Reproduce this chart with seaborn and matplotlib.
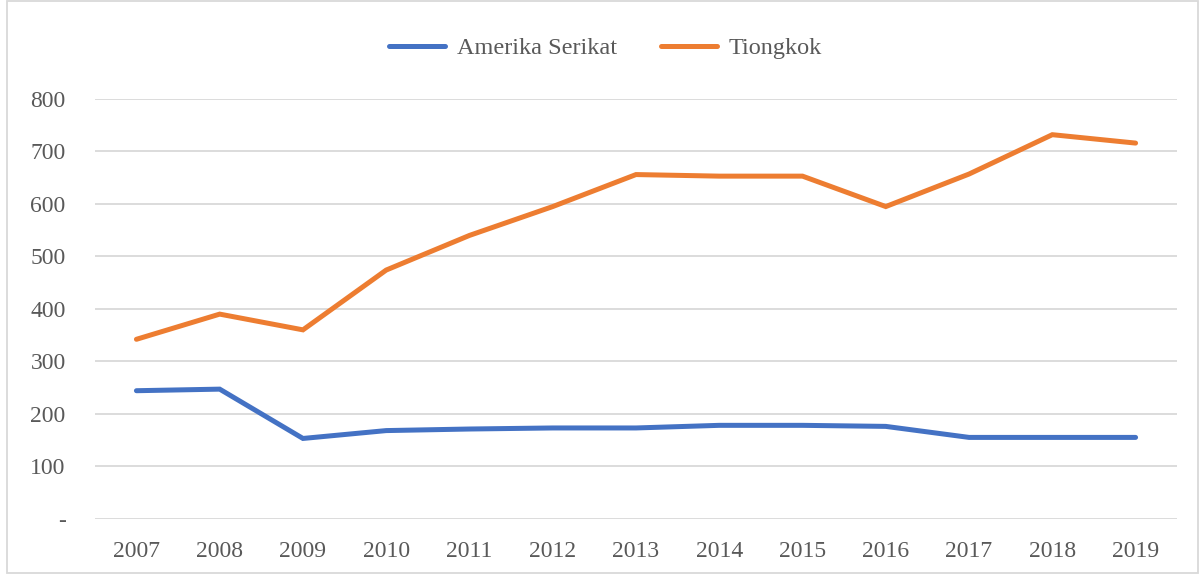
import matplotlib
matplotlib.use("Agg")
from matplotlib import pyplot as plt
from matplotlib.patches import Rectangle
import seaborn as sns
import pandas as pd

years = ["2007", "2008", "2009", "2010", "2011", "2012", "2013",
         "2014", "2015", "2016", "2017", "2018", "2019"]
amerika = [244, 247, 153, 168, 171, 173, 173, 178, 178, 176, 155, 155, 155]
tiongkok = [342, 390, 360, 474, 540, 595, 656, 653, 653, 595, 657, 732, 716]
series = ["Amerika Serikat", "Tiongkok"]
colors = ["#4472C4", "#ED7D31"]

sns.set_theme(style="white")
plt.rcParams["font.family"] = ["Liberation Serif", "DejaVu Serif"]

df = pd.DataFrame({
    "Tahun": years * 2,
    "Nilai": amerika + tiongkok,
    "Negara": [series[0]] * len(years) + [series[1]] * len(years),
})

fig = plt.figure(figsize=(12, 5.74), dpi=100)
ax = fig.add_axes([0.079, 0.0963, 0.902, 0.7312])

sns.lineplot(data=df, x="Tahun", y="Nilai", hue="Negara", palette=colors,
             linewidth=3.6, ax=ax, sort=False,
             solid_capstyle="round", solid_joinstyle="miter")

ax.set_xlim(-0.5, len(years) - 0.5)
ax.set_ylim(0, 800)
ax.set_yticks(range(0, 801, 100))
ax.set_yticklabels(["-"] + [str(v) for v in range(100, 801, 100)])
ax.grid(axis="y", color="#D9D9D9", linewidth=1.3)
ax.set_axisbelow(True)
for s in ax.spines.values():
    s.set_visible(False)
ax.set(xlabel=None, ylabel=None)
ax.tick_params(axis="both", length=0, labelsize=17, labelcolor="#595959")
ax.tick_params(axis="x", pad=16)
ax.tick_params(axis="y", pad=21)

leg = ax.legend(loc="center", bbox_to_anchor=(0.472, 1.121), ncol=2,
                frameon=False, fontsize=17.5, handlelength=2.3,
                columnspacing=1.8, handletextpad=0.5)
for t in leg.get_texts():
    t.set_color("#595959")
for h in leg.get_lines():
    h.set_linewidth(3.6)
    h.set_solid_capstyle("round")

fig.patches.append(Rectangle((0.006, 0.002), 0.992, 0.996, transform=fig.transFigure,
                             fill=False, edgecolor="#D9D9D9", linewidth=1.3))

fig.savefig("out.png", dpi=100)
